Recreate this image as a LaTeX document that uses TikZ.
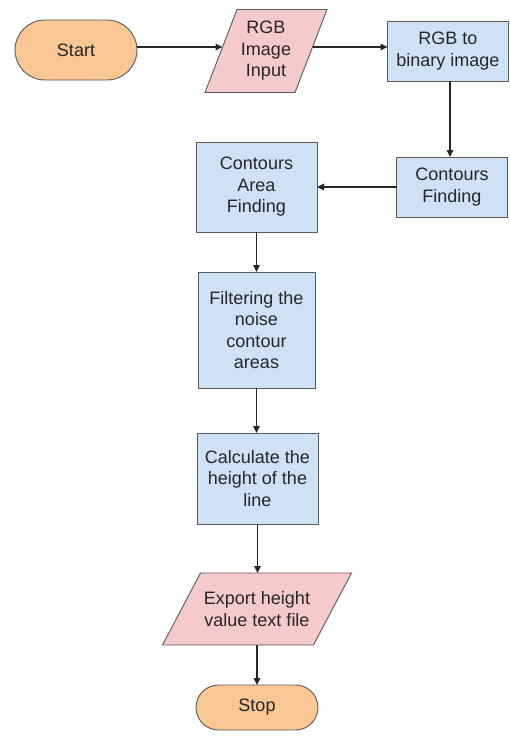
\documentclass[tikz,border=0pt]{standalone}
\usepackage{fontspec}
\setmainfont{Liberation Sans}
\usetikzlibrary{arrows.meta,backgrounds,calc}

\definecolor{termfill}{HTML}{F9C794}
\definecolor{iofill}{HTML}{F5CACB}
\definecolor{procfill}{HTML}{CFE2F5}
\definecolor{edge}{HTML}{5A5A5A}
\definecolor{ink}{HTML}{262626}

\tikzset{
  base/.style={font=\fontsize{18}{21.5}\selectfont, text=ink, align=center,
    inner sep=0pt, outer sep=0pt},
  terminal/.style={base, draw=edge, line width=0.9pt, fill=termfill,
    minimum width=122pt},
  process/.style={base, draw=edge, line width=0.9pt, fill=procfill},
  iobox/.style={base, draw=none},
  iofillstyle/.style={draw=edge, line width=0.9pt, fill=iofill},
  arr/.style={draw=ink, line width=1.1pt, -{Triangle[length=7pt,width=6.5pt]}}
}

\begin{document}
\begin{tikzpicture}[x=1pt,y=-1pt]
  \useasboundingbox (0,0) rectangle (510,740);

  % terminals
  \node[terminal, minimum height=60pt, rounded corners=30pt] (start) at (76,50) {Start};
  \node[terminal, minimum height=45pt, rounded corners=22.5pt] (stop) at (257,707.5) {Stop};

  % input / output boxes (parallelograms drawn behind the text)
  \node[iobox, minimum width=90pt, minimum height=83pt] (input) at (266,51)
    {RGB\\Image\\Input};
  \node[iobox, minimum width=151pt, minimum height=72pt] (export) at (257,609)
    {Export height\\value text file};
  \begin{scope}[on background layer]
    \path[iofillstyle] ($(input.north west)+(16,0)$) -- ($(input.north east)+(16,0)$)
      -- ($(input.south east)+(-16,0)$) -- ($(input.south west)+(-16,0)$) -- cycle;
    \path[iofillstyle] ($(export.north west)+(19,0)$) -- ($(export.north east)+(19,0)$)
      -- ($(export.south east)+(-19,0)$) -- ($(export.south west)+(-19,0)$) -- cycle;
  \end{scope}

  % processing steps
  \node[process, minimum width=121pt, minimum height=60pt] (binary) at (448,51)
    {RGB to\\binary image};
  \node[process, minimum width=111pt, minimum height=60pt] (cfind) at (452,187)
    {Contours\\Finding};
  \node[process, minimum width=121pt, minimum height=90pt] (carea) at (256.5,187)
    {Contours\\Area\\Finding};
  \node[process, minimum width=117pt, minimum height=116pt] (filter) at (256.5,330)
    {Filtering the\\noise\\contour\\areas};
  \node[process, minimum width=121pt, minimum height=91pt] (calc) at (257.5,478.5)
    {Calculate the\\height of the\\line};

  % connector start points
  \coordinate (sout) at ($(start.east)+(0,-3)$);
  \coordinate (iout) at ($(input.east)+(1.5,-4)$);
  \coordinate (bout) at ($(binary.south)+(2,0)$);

  % connectors
  \draw[arr] (sout) -- ($(sout -| input.west)+(1.5,0)$);
  \draw[arr] (iout) -- (iout -| binary.west);
  \draw[arr] (bout) -- (bout |- cfind.north);
  \draw[arr] (cfind.west) -- (carea.east);
  \draw[arr] (carea.south) -- (carea.south |- filter.north);
  \draw[arr] (filter.south) -- (filter.south |- calc.north);
  \draw[arr] (calc.south) -- (calc.south |- export.north);
  \draw[arr] (export.south) -- (export.south |- stop.north);
\end{tikzpicture}
\end{document}
